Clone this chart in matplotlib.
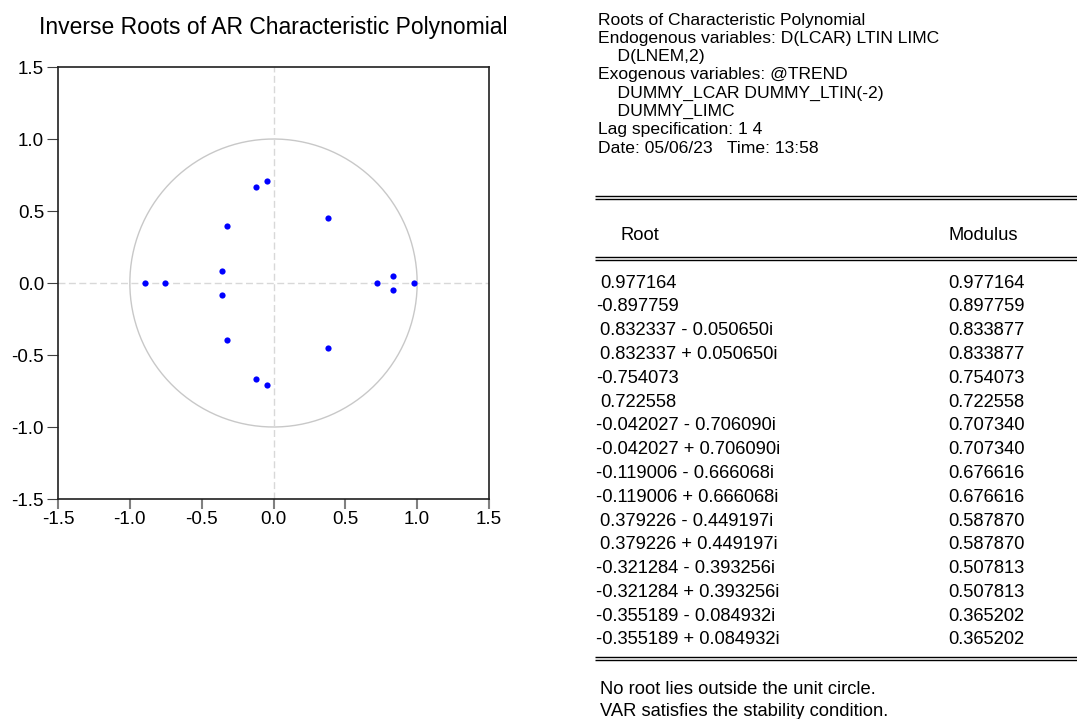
import matplotlib
matplotlib.use('Agg')
import matplotlib.pyplot as plt
import numpy as np

plt.rcParams['font.family'] = ['Liberation Sans', 'DejaVu Sans']

# roots of the characteristic polynomial (real, imaginary) and modulus
root_re = [0.977164, -0.897759, 0.832337, 0.832337, -0.754073, 0.722558,
           -0.042027, -0.042027, -0.119006, -0.119006, 0.379226, 0.379226,
           -0.321284, -0.321284, -0.355189, -0.355189]
root_im = [0.0, 0.0, -0.050650, 0.050650, 0.0, 0.0,
           -0.706090, 0.706090, -0.666068, 0.666068, -0.449197, 0.449197,
           -0.393256, 0.393256, -0.084932, 0.084932]
modulus = ['0.977164', '0.897759', '0.833877', '0.833877', '0.754073', '0.722558',
           '0.707340', '0.707340', '0.676616', '0.676616', '0.587870', '0.587870',
           '0.507813', '0.507813', '0.365202', '0.365202']

header_lines = ['Roots of Characteristic Polynomial',
                'Endogenous variables: D(LCAR) LTIN LIMC',
                '    D(LNEM,2)',
                'Exogenous variables: @TREND',
                '    DUMMY_LCAR DUMMY_LTIN(-2)',
                '    DUMMY_LIMC',
                'Lag specification: 1 4',
                'Date: 05/06/23   Time: 13:58']
footer_lines = ['No root lies outside the unit circle.',
                'VAR satisfies the stability condition.']

W, H = 1077, 719
fig = plt.figure(figsize=(W / 100, H / 100), dpi=100)

# overlay axes in pixel coordinates for the text table
bg = fig.add_axes([0, 0, 1, 1])
bg.set_xlim(0, W)
bg.set_ylim(H, 0)
bg.axis('off')

# ---- unit circle plot
ax = fig.add_axes([58 / W, 1 - 499 / H, 431 / W, 432 / H])
t = np.linspace(0, 2 * np.pi, 400)
ax.plot(np.cos(t), np.sin(t), color='#c8c8c8', lw=1.0)
ax.axhline(0, color='#d8d8d8', lw=1.0, ls=(0, (5, 2.5)))
ax.axvline(0, color='#d8d8d8', lw=1.0, ls=(0, (5, 2.5)))
ax.scatter(root_re, root_im, s=20, color='#0000ff', zorder=3, linewidths=0)
ax.set_xlim(-1.5, 1.5)
ax.set_ylim(-1.5, 1.5)
ticks = [-1.5, -1.0, -0.5, 0.0, 0.5, 1.0, 1.5]
ax.set_xticks(ticks)
ax.set_yticks(ticks)
ax.set_xticklabels(['%.1f' % v for v in ticks])
ax.set_yticklabels(['%.1f' % v for v in ticks])
ax.tick_params(axis='x', direction='out', length=7, width=1.5, color='#808080',
               labelsize=13.5, pad=2)
ax.tick_params(axis='y', direction='out', length=8, width=0.8, color='#404040',
               labelsize=13.5, pad=2)
for s in ax.spines.values():
    s.set_linewidth(1.2)
    s.set_color('#202020')
ax.set_title('Inverse Roots of AR Characteristic Polynomial', fontsize=16.5, pad=24)

# ---- text table
fs = 13.2
y = 20
for line in header_lines:
    bg.text(598, y, line, fontsize=12.6, va='center', ha='left')
    y += 18.3


def double_line(yy):
    bg.plot([595, W], [yy, yy], color='black', lw=1.0, solid_capstyle='butt')
    bg.plot([595, W], [yy + 3, yy + 3], color='black', lw=1.0, solid_capstyle='butt')


double_line(196)
bg.text(620, 235, 'Root', fontsize=fs, va='center')
bg.text(948, 235, 'Modulus', fontsize=fs, va='center')
double_line(257)

y = 283
step = (640 - 283) / 15
for re, im, m in zip(root_re, root_im, modulus):
    if im == 0:
        lab = '%.6f' % re
    else:
        lab = '%.6f %s %.6fi' % (re, '-' if im < 0 else '+', abs(im))
    x0 = 596 if re < 0 else 600
    bg.text(x0, y, lab, fontsize=fs, va='center')
    bg.text(948, y, m, fontsize=fs, va='center')
    y += step
double_line(657)

y = 690
for line in footer_lines:
    bg.text(600, y, line, fontsize=fs, va='center')
    y += 21

fig.savefig('out.png', dpi=100)
